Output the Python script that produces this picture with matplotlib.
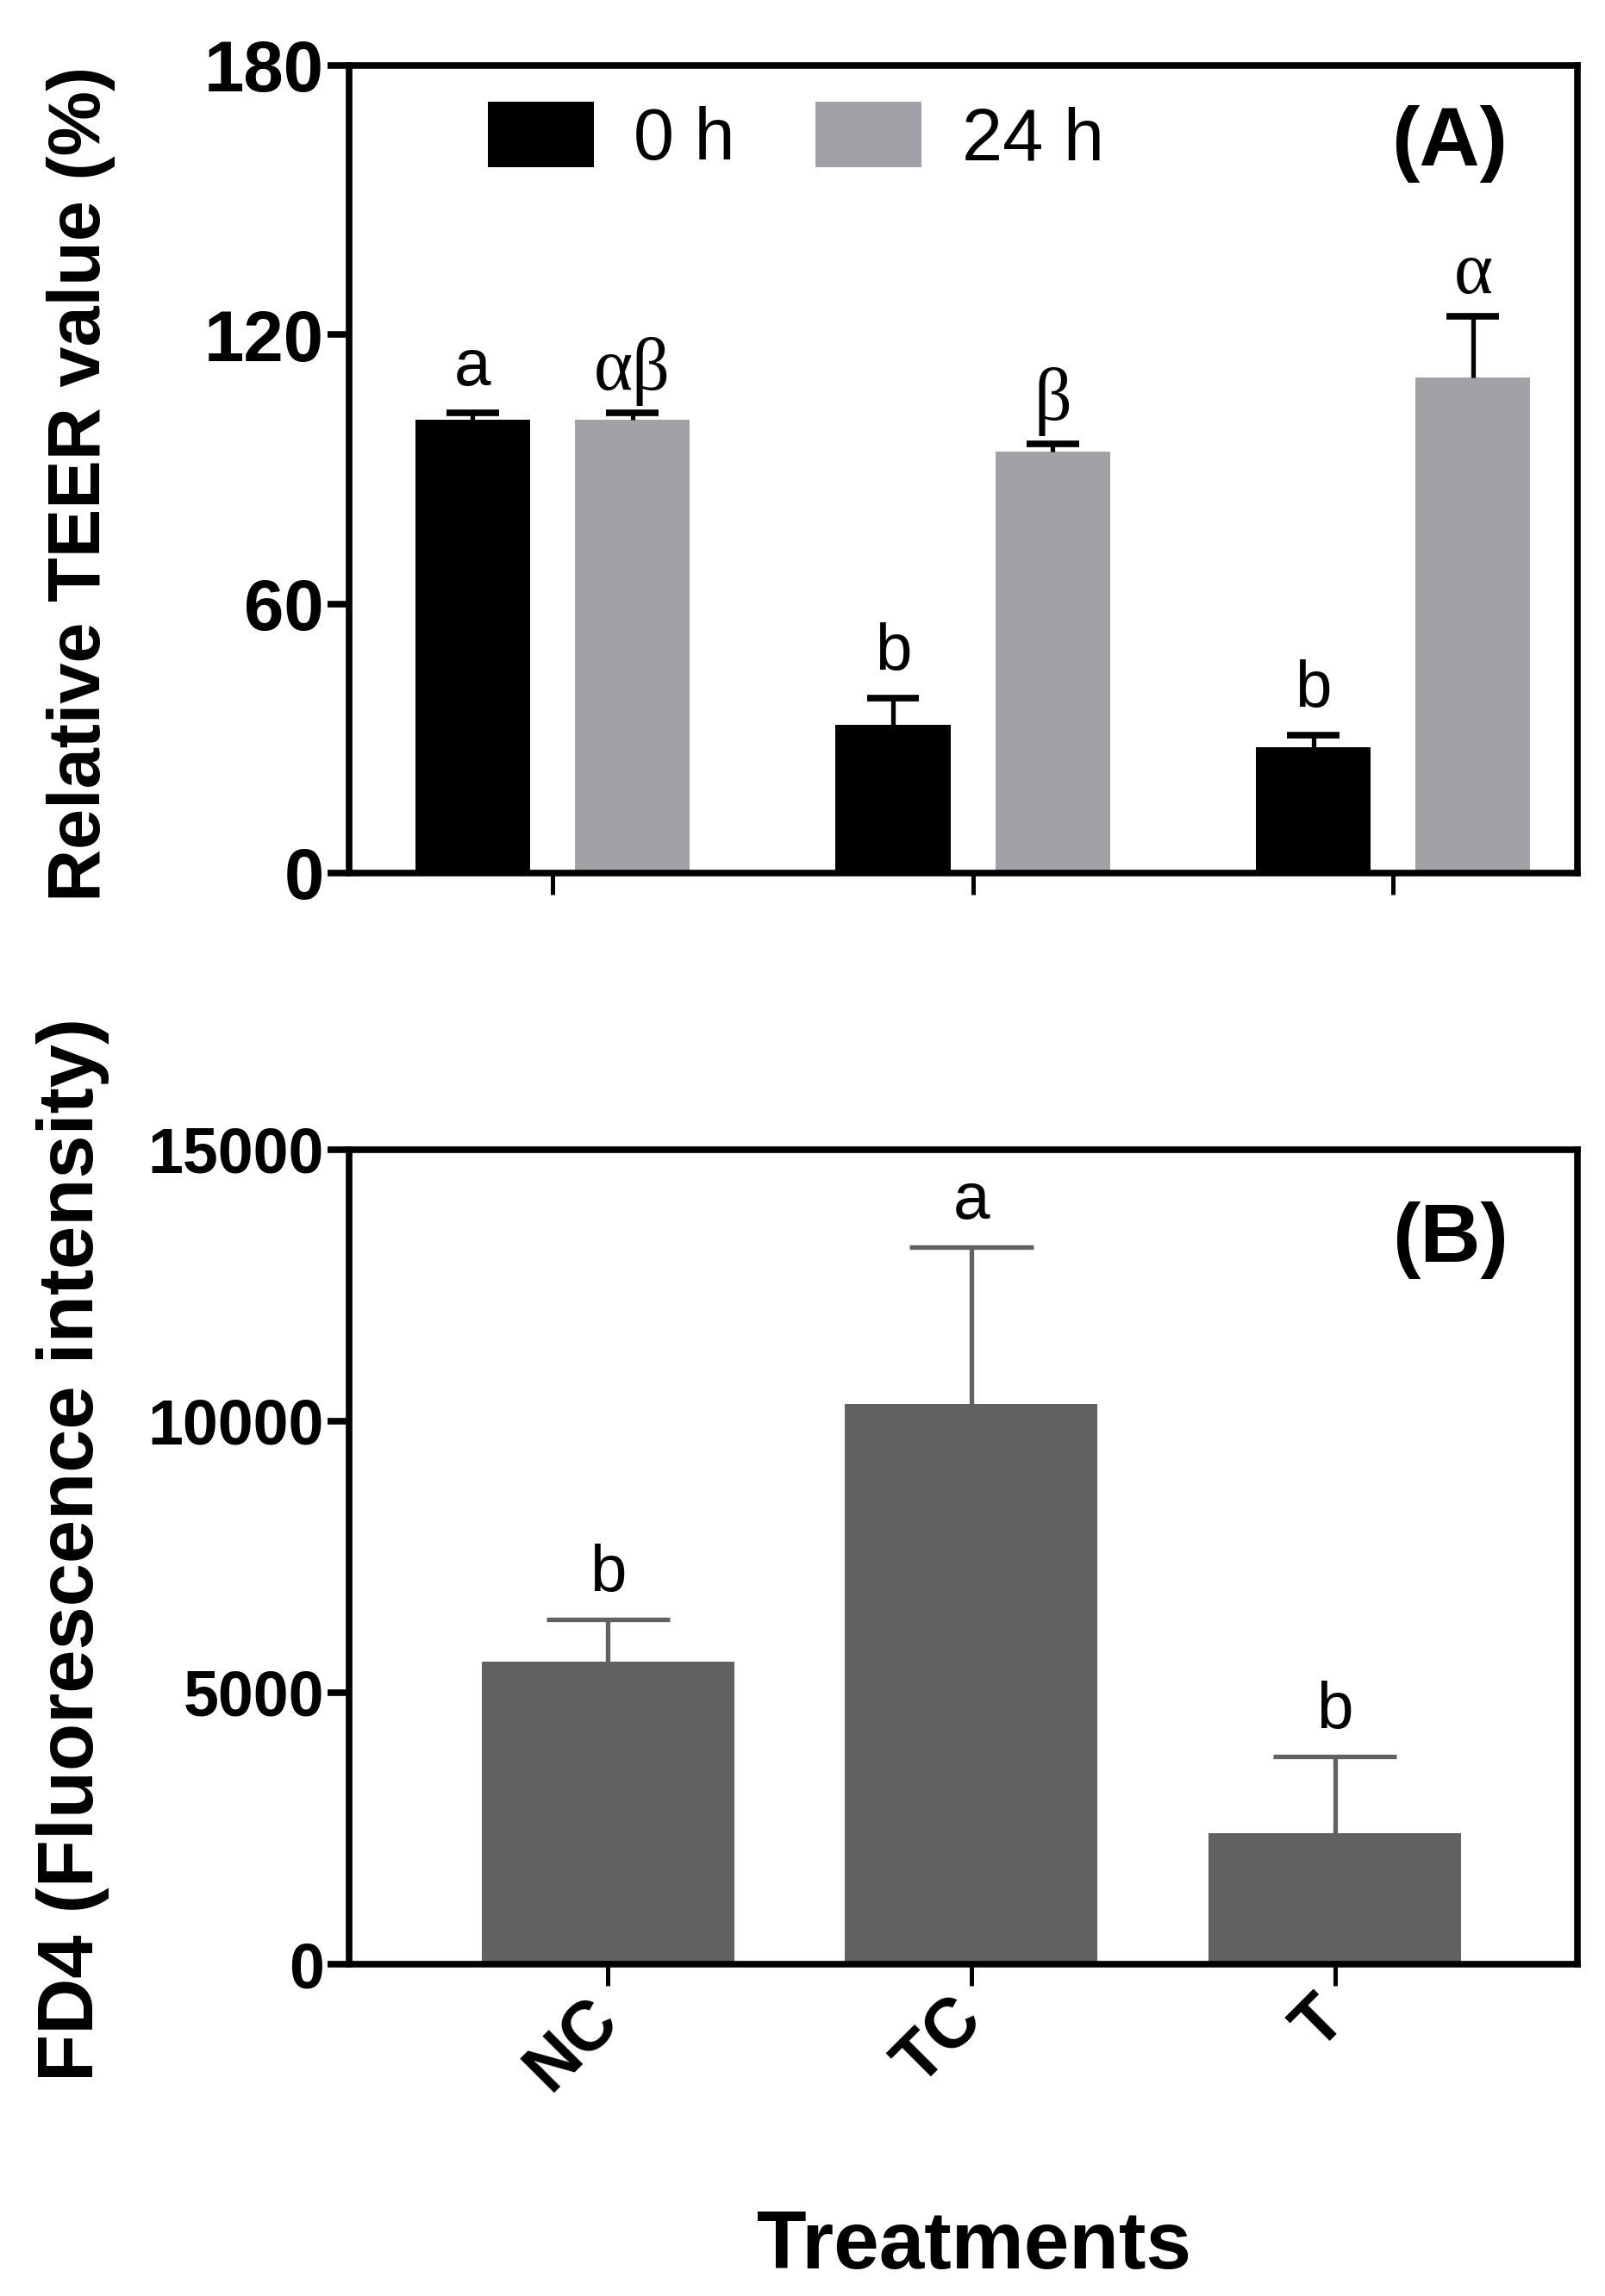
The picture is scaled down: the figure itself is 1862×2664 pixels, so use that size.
import numpy as np
import matplotlib
matplotlib.use('Agg')
import matplotlib.pyplot as plt

# panel A: relative TEER (%)
groups = ['NC', 'TC', 'T']
teer_0h = [101.0, 33.0, 28.0]
teer_0h_err = [1.5, 6.0, 2.8]
teer_24h = [101.0, 94.0, 110.5]
teer_24h_err = [1.5, 1.7, 13.5]
teer_0h_letters = ['a', 'b', 'b']
teer_24h_letters = ['αβ', 'β', 'α']

# panel B: FD4 fluorescence
fd4 = [5570, 10320, 2410]
fd4_err = [780, 2890, 1420]
fd4_letters = ['b', 'a', 'b']

sans = ['Liberation Sans', 'DejaVu Sans']
serif = ['Liberation Serif', 'DejaVu Serif']

fig = plt.figure(figsize=(18.62, 26.64), dpi=100)
axA = fig.add_axes([0.2175, 0.6198, 0.7655, 0.3517])
axB = fig.add_axes([0.2175, 0.1445, 0.7655, 0.3548])

black = '#000000'
gray = '#a2a2a6'
dark = '#616161'


def upper_err(ax, xs, vals, errs, capw, color, lw, cap_lw):
    # only the upper half of the error bar, as in Prism
    tops = np.array(vals) + np.array(errs)
    ax.vlines(xs, vals, tops, color=color, linewidth=lw, zorder=3)
    ax.hlines(tops, np.array(xs) - capw / 2, np.array(xs) + capw / 2, color=color,
              linewidth=cap_lw, zorder=3)


x = np.arange(len(groups))
w = 0.273
off = 0.19

axA.bar(x - off, teer_0h, w, color=black, label='0 h', zorder=2)
axA.bar(x + off, teer_24h, w, color=gray, label='24 h', zorder=2)
upper_err(axA, x - off, teer_0h, teer_0h_err, 0.125, 'black', 3.8, 5.5)
upper_err(axA, x + off, teer_24h, teer_24h_err, 0.125, 'black', 3.8, 5.5)

for i in range(len(groups)):
    axA.annotate(teer_0h_letters[i], xy=(x[i] - off, teer_0h[i] + teer_0h_err[i]),
                 xytext=(0, 12), textcoords='offset points', ha='center', va='bottom',
                 fontsize=55, family=sans)
    axA.annotate(teer_24h_letters[i], xy=(x[i] + off, teer_24h[i] + teer_24h_err[i]),
                 xytext=(0, 6), textcoords='offset points', ha='center', va='bottom',
                 fontsize=62, family=serif)

axA.set_ylim(0, 180)
axA.set_yticks([0, 60, 120, 180])
axA.set_xlim(-0.484, 2.439)
axA.set_xticks(x)
axA.set_xticklabels([])
axA.set_ylabel('Relative TEER value (%)', fontsize=61, fontweight='bold', family=sans)
axA.yaxis.set_label_coords(-0.19, 0.482)
axA.text(0.896, 0.903, '(A)', transform=axA.transAxes, ha='center', va='center',
         fontsize=70, fontweight='bold', family=sans)
axA.legend(loc='upper left', bbox_to_anchor=(0.113, 0.955), ncol=2, frameon=False,
           prop={'family': sans, 'size': 61}, handlelength=1.45, handleheight=1.0,
           handletextpad=0.55, columnspacing=1.1, borderaxespad=0, borderpad=0)

# panel B
axB.bar(x, fd4, 0.695, color=dark, zorder=2)
upper_err(axB, x, fd4, fd4_err, 0.34, dark, 3.8, 3.8)
for i in range(len(groups)):
    axB.annotate(fd4_letters[i], xy=(x[i], fd4[i] + fd4_err[i]),
                 xytext=(0, 12), textcoords='offset points', ha='center', va='bottom',
                 fontsize=55, family=sans)

axB.set_ylim(0, 15000)
axB.set_yticks([0, 5000, 10000, 15000])
axB.set_xlim(-0.712, 2.668)
axB.set_xticks(x)
axB.set_xticklabels(groups, rotation=45, ha='right', va='center', rotation_mode='anchor')
axB.set_ylabel('FD4 (Fluorescence intensity)', fontsize=65, fontweight='bold', family=sans)
axB.yaxis.set_label_coords(-0.195, 0.509)
axB.set_xlabel('Treatments', fontsize=68, fontweight='bold', family=sans)
axB.xaxis.set_label_coords(0.509, -0.30)
axB.text(0.896, 0.889, '(B)', transform=axB.transAxes, ha='center', va='center',
         fontsize=70, fontweight='bold', family=sans)

for ax, ysize in ((axA, 60), (axB, 53)):
    for s in ax.spines.values():
        s.set_linewidth(5.5)
    ax.tick_params(axis='y', direction='out', length=18, width=5.5, pad=3, labelsize=ysize)
    ax.tick_params(axis='x', direction='out', length=18, width=3.6, pad=20, labelsize=58)
    for lab in ax.get_yticklabels() + ax.get_xticklabels():
        lab.set_fontweight('bold')
        lab.set_family(sans)

fig.savefig('out.png', dpi=100)
